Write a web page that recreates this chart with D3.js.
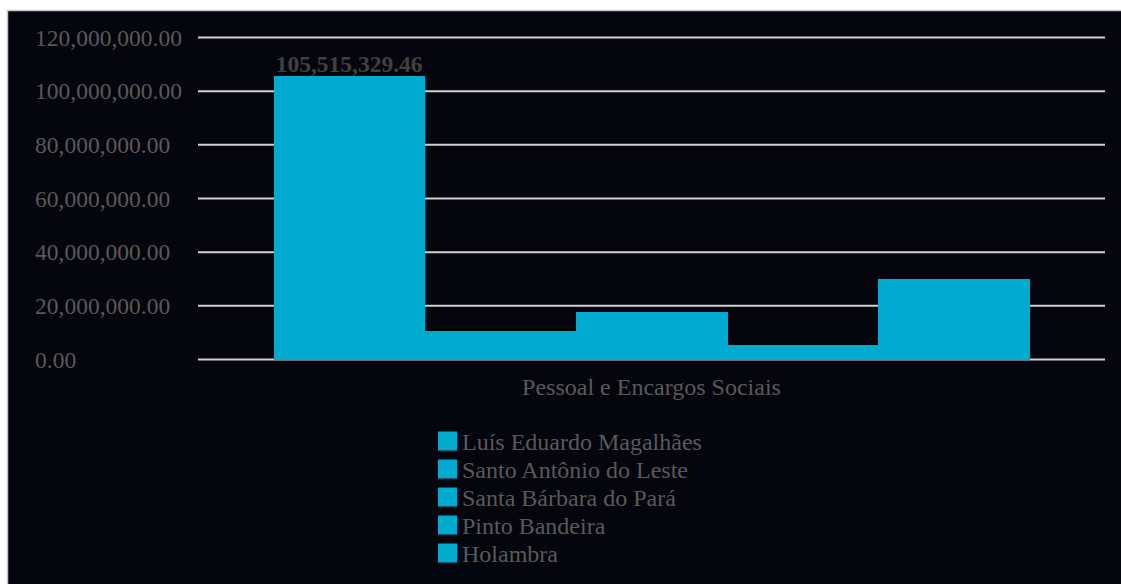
<!DOCTYPE html>
<html><head><meta charset="utf-8">
<script src="https://cdn.jsdelivr.net/npm/d3@7"></script>
<style>html,body{margin:0;padding:0;background:#fff;overflow:hidden}svg{display:block}</style>
</head><body>
<svg id="c" width="1121" height="584"></svg>
<script>
const categories = ["Pessoal e Encargos Sociais"];
const seriesNames = ["Luís Eduardo Magalhães","Santo Antônio do Leste","Santa Bárbara do Pará","Pinto Bandeira","Holambra"];
const seriesValues = [105515329.46, 10600000, 17700000, 5400000, 30000000];
const yTicks = [0, 20000000, 40000000, 60000000, 80000000, 100000000, 120000000];
const dataLabels = ["105,515,329.46", null, null, null, null];

const W = 1121, H = 584;
const svg = d3.select("#c");
const font = "'Liberation Serif','Times New Roman',serif";
const barColor = "#00abcf";
const textColor = "#595959";

svg.append("rect").attr("x",7.5).attr("y",10.5).attr("width",W).attr("height",H)
  .attr("fill","#05050d").attr("stroke","#c8c8c8").attr("stroke-width",1.5);

const plot = {l:198, r:1105, t:37.5, b:359.5};
const y = d3.scaleLinear().domain([0,120000000]).range([plot.b, plot.t]);
const x0 = d3.scaleBand().domain(categories).range([plot.l, plot.r]).paddingInner(0).paddingOuter(0);
const x1 = d3.scaleBand().domain(seriesNames).range([0, x0.bandwidth()]).paddingOuter(0.5).paddingInner(0);

// gridlines
svg.append("g").selectAll("line").data(yTicks).join("line")
  .attr("x1",plot.l).attr("x2",plot.r)
  .attr("y1",d=>y(d)).attr("y2",d=>y(d))
  .attr("stroke","#d0d0d0").attr("stroke-width",2);

// y tick labels
const fmt = d3.format(",.2f");
svg.append("g").selectAll("text").data(yTicks).join("text")
  .attr("x",35).attr("y",d=>y(d)+8)
  .attr("font-family",font).attr("font-size",23.5).attr("fill",textColor)
  .text(d=>fmt(d));

// bars
const g = svg.append("g");
categories.forEach((c)=>{
  seriesNames.forEach((s,i)=>{
    const v = seriesValues[i];
    g.append("rect")
      .attr("x", x0(c)+x1(s)).attr("width", x1.bandwidth()+0.5)
      .attr("y", y(v)).attr("height", y(0)-y(v))
      .attr("fill", barColor).attr("shape-rendering","crispEdges");
    if (dataLabels[i]) {
      g.append("text")
        .attr("x", x0(c)+x1(s)+x1.bandwidth()/2).attr("y", y(v)-4)
        .attr("text-anchor","middle").attr("font-family",font).attr("font-weight","bold")
        .attr("font-size",23.5).attr("fill","#404040").text(dataLabels[i]);
    }
  });
  svg.append("text").attr("x", x0(c)+x0.bandwidth()/2).attr("y", 395)
    .attr("text-anchor","middle").attr("font-family",font).attr("font-size",24)
    .attr("fill",textColor).text(c);
});

// legend
const lg = svg.append("g");
seriesNames.forEach((s,i)=>{
  const cy = 441 + i*28;
  lg.append("rect").attr("x",438).attr("y",cy-9.5).attr("width",19).attr("height",19).attr("fill",barColor);
  lg.append("text").attr("x",462).attr("y",cy+8.5).attr("font-family",font).attr("font-size",24)
    .attr("fill",textColor).text(s);
});
</script>
</body></html>
